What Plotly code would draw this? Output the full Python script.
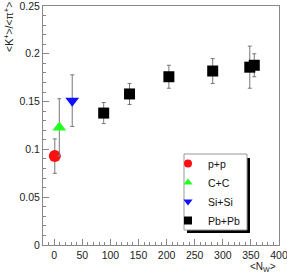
import plotly.graph_objects as go

# data
pp_x = [1.0]; pp_y = [0.093]; pp_e = [0.018]
cc_x = [9.0]; cc_y = [0.123]; cc_e = [0.030]
si_x = [32.0]; si_y = [0.151]; si_e = [0.027]
pb_x = [88, 134, 204, 282, 348, 356]
pb_y = [0.138, 0.158, 0.176, 0.182, 0.186, 0.188]
pb_e = [0.011, 0.011, 0.012, 0.013, 0.022, 0.012]

names = ["p+p", "C+C", "Si+Si", "Pb+Pb"]
colors = ["#ff1010", "#22ff22", "#1010ff", "#000000"]
symbols = ["circle", "triangle-up", "triangle-down", "square"]

W, H = 287, 273
ml, mr, mt, mb = 43, 8, 6, 28
pw, ph = W - ml - mr, H - mt - mb

def px2x(p):
    return (p - ml) / pw

def py2y(p):
    return (H - mb - p) / ph

FONT = "Liberation Sans, Arial, sans-serif"
fig = go.Figure()
errc = "#777777"
sets = [(pp_x, pp_y, pp_e, 12), (cc_x, cc_y, cc_e, 12), (si_x, si_y, si_e, 12), (pb_x, pb_y, pb_e, 11)]
for (xs, ys, es, sz), nm, col, sym in zip(sets, names, colors, symbols):
    fig.add_trace(go.Scatter(
        x=xs, y=ys, mode="markers", showlegend=False,
        marker=dict(color=col, size=sz, symbol=sym, line=dict(width=0)),
        error_y=dict(type="data", array=es, visible=True, color=errc, thickness=1, width=2),
    ))
for nm, col, sym in zip(names, colors, symbols):
    fig.add_trace(go.Scatter(
        x=[None], y=[None], mode="markers", name=nm,
        marker=dict(color=col, size=8, symbol=sym),
    ))

axcol = "#888888"
fig.update_xaxes(range=[-20, 400], dtick=50, tick0=0, ticks="inside", ticklen=6, tickcolor=axcol,
                 showline=True, linecolor=axcol, linewidth=1, mirror=True, showgrid=False, zeroline=False,
                 minor=dict(ticks="inside", ticklen=3, dtick=10, tickcolor=axcol), automargin=False,
                 ticklabeloverflow="allow",
                 tickfont=dict(family=FONT, size=10.5, color="#222"))
fig.update_yaxes(range=[0, 0.25], dtick=0.05, tick0=0, ticks="inside", ticklen=6, tickcolor=axcol,
                 showline=True, linecolor=axcol, linewidth=1, mirror=True, showgrid=False, zeroline=False,
                 minor=dict(ticks="inside", ticklen=3, dtick=0.01, tickcolor=axcol), automargin=False,
                 ticklabeloverflow="allow",
                 tickfont=dict(family=FONT, size=10.5, color="#222"))

# legend box and shadow
lx0, ly0, lx1, ly1 = 184, 154, 247, 230
fig.add_shape(type="rect", xref="paper", yref="paper", x0=px2x(lx0 + 3), x1=px2x(lx1 + 3),
              y0=py2y(ly1 + 3), y1=py2y(ly0 + 4), fillcolor="black", line=dict(width=0), layer="above")
fig.add_shape(type="rect", xref="paper", yref="paper", x0=px2x(lx0), x1=px2x(lx1),
              y0=py2y(ly1), y1=py2y(ly0), fillcolor="white", line=dict(color="#999", width=1), layer="above")

fig.add_annotation(text="&lt;K<sup>+</sup>&gt;/&lt;π<sup>+</sup>&gt;", xref="paper", yref="paper",
                   x=px2x(8), y=py2y(0), xanchor="center", yanchor="top", textangle=-90, showarrow=False,
                   font=dict(family=FONT, size=10.5, color="#222"))
fig.add_annotation(text="&lt;N<sub>W</sub>&gt;", xref="paper", yref="paper",
                   x=px2x(277), y=py2y(260), xanchor="right", yanchor="top", showarrow=False, borderpad=0,
                   font=dict(family=FONT, size=10, color="#222"))

fig.update_layout(
    width=W, height=H, margin=dict(l=ml, r=mr, t=mt, b=mb, autoexpand=False),
    paper_bgcolor="white", plot_bgcolor="white",
    legend=dict(x=px2x(168), y=py2y(149), xanchor="left", yanchor="top", bgcolor="rgba(0,0,0,0)",
                borderwidth=0, font=dict(family=FONT, size=10.5, color="#111"), itemwidth=30),
)
fig.write_html("out.html", config={"displayModeBar": False},
               post_script="document.body.style.margin='0';")
